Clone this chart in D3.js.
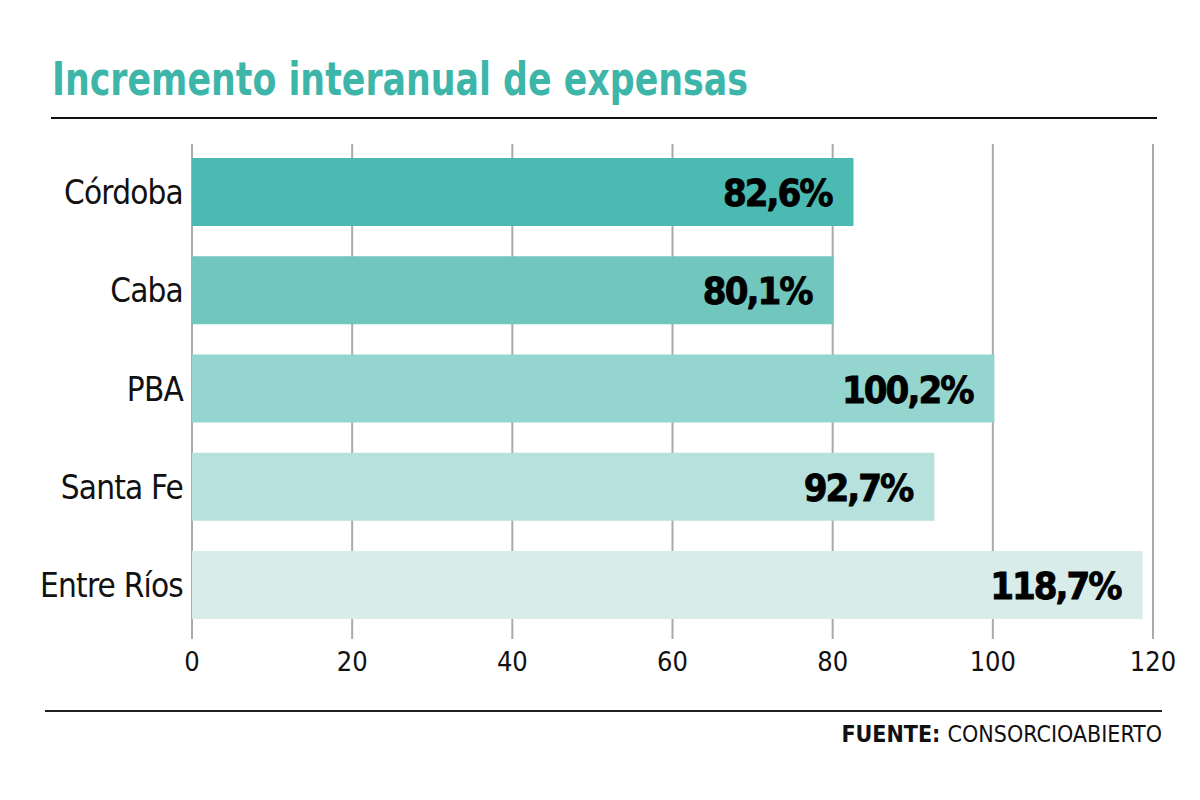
<!DOCTYPE html>
<html>
<head>
<meta charset="utf-8">
<script src="https://cdn.jsdelivr.net/npm/d3@7"></script>
<style>
  body { margin: 0; background: #fff; }
  text { font-family: "Liberation Sans Narrow", "DejaVu Sans Condensed", "Roboto", sans-serif; }
</style>
</head>
<body>
<div id="container"></div>
<script>
let w = 1200;
let h = 800;

// data
let provincias = ["Córdoba", "Caba", "PBA", "Santa Fe", "Entre Ríos"];
let valores = [82.6, 80.1, 100.2, 92.7, 118.7];
let etiquetas = ["82,6%", "80,1%", "100,2%", "92,7%", "118,7%"];
let colores = ["#4bbab2", "#71c6be", "#94d5cf", "#b6e1dd", "#d8ecea"];
let ticks = [0, 20, 40, 60, 80, 100, 120];

let titleColor = "#3db6a9";

let viz = d3.select("#container")
  .append("svg")
    .attr("width", w)
    .attr("height", h)
    .style("background-color", "white")
;

let x = d3.scaleLinear().domain([0, 120]).range([192, 1153]);
let y = d3.scaleBand().domain(provincias).range([158, 619]).paddingInner(0.308).paddingOuter(0);

// title
viz.append("text")
  .text("Incremento interanual de expensas")
  .attr("x", 52)
  .attr("y", 95)
  .attr("font-size", 46)
  .attr("font-weight", "bold")
  .attr("fill", titleColor)
  .attr("textLength", 696)
  .attr("lengthAdjust", "spacingAndGlyphs")
;

viz.append("line") // line under title
  .attr("x1", 51)
  .attr("y1", 118)
  .attr("x2", 1157)
  .attr("y2", 118)
  .style("stroke", "#111")
  .style("stroke-width", 2)
;

// grid lines
viz.append("g")
  .selectAll("line")
  .data(ticks)
  .enter()
  .append("line")
    .attr("x1", d => x(d))
    .attr("x2", d => x(d))
    .attr("y1", 144)
    .attr("y2", 639)
    .style("stroke", "#aaa")
    .style("stroke-width", 2)
;

// bars
let bars = viz.append("g").selectAll(".bar").data(provincias).enter()
  .append("g")
    .attr("class", "bar")
;

bars.append("rect")
  .attr("x", x(0))
  .attr("y", d => y(d))
  .attr("width", (d, i) => x(valores[i]) - x(0))
  .attr("height", y.bandwidth())
  .attr("fill", (d, i) => colores[i])
;

bars.append("text") // value label
  .text((d, i) => etiquetas[i])
  .attr("x", (d, i) => x(valores[i]) - 22)
  .attr("y", d => y(d) + y.bandwidth() / 2 + 14)
  .attr("text-anchor", "end")
  .attr("font-size", 38)
  .attr("font-weight", "bold")
  .attr("fill", "#000")
  .attr("letter-spacing", -2)
  .style("stroke", "#000")
  .style("stroke-width", 0.8)
;

bars.append("text") // category label
  .text(d => d)
  .attr("x", 183)
  .attr("y", d => y(d) + y.bandwidth() / 2 + 12)
  .attr("text-anchor", "end")
  .attr("font-size", 33)
  .attr("letter-spacing", -0.8)
  .attr("fill", "#111")
;

// tick labels
viz.append("g")
  .selectAll("text")
  .data(ticks)
  .enter()
  .append("text")
    .text(d => d)
    .attr("x", d => x(d))
    .attr("y", 671)
    .attr("text-anchor", "middle")
    .attr("font-size", 27)
    .attr("fill", "#111")
;

viz.append("line") // bottom line
  .attr("x1", 45)
  .attr("y1", 711)
  .attr("x2", 1162)
  .attr("y2", 711)
  .style("stroke", "#222")
  .style("stroke-width", 2)
;

let fuente = viz.append("text")
  .attr("x", 1162)
  .attr("y", 742)
  .attr("text-anchor", "end")
  .attr("font-size", 23)
  .attr("fill", "#111")
;
fuente.append("tspan").text("FUENTE: ").attr("font-weight", "bold");
fuente.append("tspan").text("CONSORCIOABIERTO");
</script>
</body>
</html>
